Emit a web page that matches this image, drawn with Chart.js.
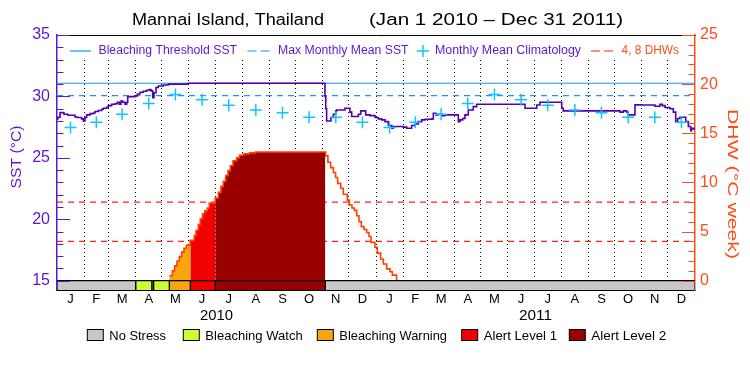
<!DOCTYPE html>
<html>
<head>
<meta charset="utf-8">
<script src="https://cdn.jsdelivr.net/npm/chart.js@4.4.1/dist/chart.umd.min.js"></script>
<style>body{margin:0;background:#fff}</style>
</head>
<body>
<canvas id="c" width="750" height="375"></canvas>
<script>
let monthLetters = ['J', 'F', 'M', 'A', 'M', 'J', 'J', 'A', 'S', 'O', 'N', 'D']
let monthLengths = [31, 28, 31, 30, 31, 30, 31, 31, 30, 31, 30, 31]
let years = ['2010', '2011']
let sstTicks = [15, 20, 25, 30, 35]
let dhwTicks = [0, 5, 10, 15, 20, 25]

let mmm = 30.07
let threshold = 31.07
let dhwLevels = [4, 8]

// monthly mean climatology, Jan..Dec
let climVals = [27.46, 27.9, 28.55, 29.42, 30.15, 29.72, 29.28, 28.9, 28.68, 28.3, 28.3, 27.9]

// SST (days since Jan 1 2010)
let sstDays = [0, 1, 3.5, 8, 12.6, 20.6, 23, 28.2, 30.1, 32,
    33.9, 37.8, 41.5, 43.5, 47.3, 51.1, 53, 56.8, 58.7, 62.6,
    66.4, 69, 71.3, 73.2, 75.2, 77.8, 79.7, 80.9, 89.2, 91.9,
    95, 98.8, 102.6, 105.6, 107.5, 109.5, 111, 113.3, 115.9, 121.6,
    127.4, 150.2, 305.5, 306.6, 307.5, 308.5, 310.5, 313.5, 316.2, 318.9,
    320, 329.5, 335.2, 337.2, 344.8, 347.5, 353.2, 358.1, 363.9, 367.6,
    371.5, 375.3, 379.1, 383, 384.8, 396.2, 400.1, 405.8, 409.6, 413.4,
    417.3, 421.1, 428.7, 430.6, 433.6, 436.3, 440.2, 443.9, 459.2, 461.1,
    464.2, 466.8, 470.6, 476.3, 480.2, 533.5, 535.5, 546.9, 548.9, 552.6,
    575.5, 577.5, 579.3, 642.2, 644.2, 648, 651.8, 653.7, 659.4, 661.3,
    669, 680.4, 684.2, 689.9, 692.6, 695.7, 701.4, 705.2, 707.9, 710.2,
    712.8, 716.6, 719.4, 722.4, 725.1, 726.2, 728.8, 730]
let sstVals = [28.17, 28.3, 28.68, 28.55, 28.47, 28.33, 28.28, 28.17, 28.0, 28.28,
    28.5, 28.6, 28.65, 28.77, 28.85, 28.96, 29.04, 29.12, 29.25, 29.36,
    29.4, 29.53, 29.36, 29.63, 29.53, 29.36, 29.5, 29.98, 30.04, 30.2,
    30.34, 30.42, 30.5, 30.55, 30.45, 29.9, 30.3, 30.72, 30.85, 30.93,
    31.0, 31.07, 31.07, 30.0, 29.0, 28.0, 28.0, 28.28, 28.55, 28.82,
    28.9, 29.04, 28.72, 28.36, 28.55, 28.82, 28.5, 28.44, 28.28, 28.17,
    28.09, 27.95, 27.63, 27.41, 27.55, 27.5, 27.41, 27.63, 27.76, 27.95,
    28.09, 28.14, 28.17, 28.63, 28.5, 28.55, 28.44, 28.5, 27.95, 28.09,
    28.2, 28.5, 28.9, 29.17, 29.36, 29.36, 29.04, 29.04, 29.3, 29.53,
    29.53, 29.04, 28.82, 28.82, 28.72, 28.82, 28.72, 28.5, 28.5, 29.31,
    29.3, 29.3, 29.2, 29.36, 29.25, 29.1, 29.0, 28.72, 27.95, 28.2,
    28.3, 28.3, 27.95, 27.55, 27.2, 27.4, 27.35, 27.35]

// degree heating weeks
let dhwDays = [128.5, 132, 134.6, 137.3, 140, 142.6, 145.3, 148, 152.5, 157.1,
    159, 161.7, 164, 166.6, 169, 172, 174.3, 181, 184.6, 187.6,
    190.3, 193, 195.7, 198.3, 201.4, 205.6, 208.6, 213.2, 220.1, 226.9,
    307.4, 310, 313.1, 316.2, 318.8, 321.1, 324.6, 327.6, 332.2, 334.5,
    337.5, 340.2, 342.9, 345.5, 348.2, 351.2, 354.3, 357, 359.3, 363.8,
    366.5, 370.3, 373.4, 377.2, 381, 383.7, 388.6]
let dhwVals = [0.5, 1.0, 1.5, 2.0, 2.45, 2.9, 3.3, 3.6, 4.1, 4.6,
    5.1, 5.7, 6.3, 6.8, 7.1, 7.4, 7.9, 8.4, 9.0, 9.6,
    10.1, 10.7, 11.2, 11.7, 12.2, 12.5, 12.76, 12.9, 13.0, 13.1,
    12.7, 12.05, 11.5, 11.0, 10.5, 9.9, 9.4, 8.8, 8.2, 7.7,
    7.4, 7.15, 6.6, 6.0, 5.5, 5.2, 4.9, 4.5, 3.9, 3.4,
    2.8, 2.2, 1.7, 1.2, 0.9, 0.56, 0]

// stress level periods
let stressStart = [0, 90, 108.5, 110.5, 128.5, 152.5, 181, 307]
let stressEnd = [90, 108.5, 110.5, 128.5, 152.5, 181, 307, 730]
let stressLevel = [0, 1, 0, 1, 2, 3, 4, 0]
let stressNames = ['No Stress', 'Bleaching Watch', 'Bleaching Warning', 'Alert Level 1', 'Alert Level 2']
let stressColors = ['#c8c8c8', '#ccff33', '#f9a60c', '#f00000', '#990000']

let legendLabels = ['Bleaching Threshold SST', 'Max Monthly Mean SST', 'Monthly Mean Climatology', '4, 8 DHWs']

let purple = '#5a16d2'
let sstColor = '#5000b4'
let orange = '#ff4d1a'
let red = '#ff2020'
let blue = '#1e90ff'
let cyan = '#10c4ff'
let fam = 'Liberation Sans'
let sstMin = 14.24

let bounds = [], mids = []
let d = 0
years.forEach(() => monthLengths.forEach(l => { mids.push(d + l / 2); d += l; bounds.push(d) }))
let total = bounds.pop()

function fillData(s, e) {
    let pts = []
    dhwDays.forEach((v, i) => { if (v >= s && v < e) pts.push({ x: v, y: dhwVals[i] }) })
    pts.push({ x: e, y: pts[pts.length - 1].y })
    return pts
}

let datasets = []
dhwLevels.forEach(v => datasets.push({
    data: [{ x: 0, y: v }, { x: total, y: v }], yAxisID: 'y2',
    borderColor: red, borderWidth: 1.2, borderDash: [6, 5], pointRadius: 0, order: 12
}))
stressStart.forEach((s, i) => {
    if (stressLevel[i] < 2) return
    datasets.push({
        data: fillData(s, stressEnd[i]), yAxisID: 'y2', stepped: true, fill: 'origin',
        backgroundColor: stressColors[stressLevel[i]], borderColor: 'rgba(0,0,0,0)', borderWidth: 0,
        pointRadius: 0, order: 10
    })
})
datasets.push({
    data: [{ x: 0, y: threshold }, { x: total, y: threshold }], yAxisID: 'y',
    borderColor: blue, borderWidth: 1.2, pointRadius: 0, order: 6
})
datasets.push({
    data: [{ x: 0, y: mmm }, { x: total, y: mmm }], yAxisID: 'y',
    borderColor: blue, borderWidth: 1.2, borderDash: [6, 5], pointRadius: 0, order: 6
})
datasets.push({
    data: dhwDays.map((v, i) => ({ x: v, y: dhwVals[i] })), yAxisID: 'y2', stepped: true,
    borderColor: '#ff4000', borderWidth: 1.6, pointRadius: 0, fill: false, order: 4
})
datasets.push({
    data: sstDays.map((v, i) => ({ x: v, y: sstVals[i] })), yAxisID: 'y', stepped: true,
    borderColor: sstColor, borderWidth: 1.6, pointRadius: 0, fill: false, order: 2
})
datasets.push({
    data: mids.map((v, i) => ({ x: v, y: climVals[i % 12] })), yAxisID: 'y', showLine: false,
    pointStyle: 'cross', pointRadius: 6, borderColor: cyan, pointBorderColor: cyan, pointBorderWidth: 1.5, order: 1
})
stressStart.forEach((s, i) => {
    let e = stressEnd[i]
    datasets.push({
        data: [{ x: s, y: sstMin }, { x: s, y: 15 }, { x: e, y: 15 }, { x: e, y: sstMin }], yAxisID: 'y',
        fill: 'start', backgroundColor: stressColors[stressLevel[i]], borderColor: '#000', borderWidth: 1.2,
        pointRadius: 0, order: 0
    })
})

function fitText(ctx, str, x, y, w, size, color, align) {
    ctx.font = size + 'px "' + fam + '"'
    ctx.fillStyle = color
    ctx.textBaseline = 'middle'
    ctx.textAlign = 'left'
    let m = ctx.measureText(str).width
    ctx.save()
    ctx.translate(align == 'center' ? x - w / 2 : x, y)
    ctx.scale(w / m, 1)
    ctx.fillText(str, 0, 0)
    ctx.restore()
}

function seg(ctx, x1, x2, y, color, dash) {
    ctx.save()
    ctx.strokeStyle = color
    ctx.lineWidth = 1.2
    ctx.setLineDash(dash)
    ctx.beginPath(); ctx.moveTo(x1, y); ctx.lineTo(x2, y); ctx.stroke()
    ctx.restore()
}

const decor = {
    id: 'decor',
    afterDraw(chart) {
        let ctx = chart.ctx
        let { x, y, y2 } = chart.scales
        let a = chart.chartArea
        ctx.save()
        // blank band behind the top legend
        ctx.fillStyle = '#fff'
        ctx.fillRect(a.left + 1, a.top + 1, a.right - a.left - 2, 24)

        // inward ticks
        ctx.lineWidth = 1
        ctx.strokeStyle = purple
        for (let v = 15; v <= 35; v++) {
            let py = Math.round(y.getPixelForValue(v)) + 0.5
            ctx.beginPath(); ctx.moveTo(a.left, py); ctx.lineTo(a.left + (v % 5 ? 6.5 : 13), py); ctx.stroke()
        }
        ctx.strokeStyle = orange
        for (let v = 0; v <= 25; v++) {
            let py = Math.round(y2.getPixelForValue(v)) + 0.5
            ctx.beginPath(); ctx.moveTo(a.right, py); ctx.lineTo(a.right - (v % 5 ? 6.5 : 13), py); ctx.stroke()
        }

        // title
        fitText(ctx, 'Mannai Island, Thailand', 132, 21, 192, 16, '#000')
        fitText(ctx, '(Jan 1 2010 \u2013 Dec 31 2011)', 369, 21, 254, 16, '#000')

        // top legend
        let ly = 51
        seg(ctx, 70, 91, ly, blue, [])
        fitText(ctx, legendLabels[0], 98.5, ly, 138.5, 12, purple)
        seg(ctx, 247.6, 271.6, ly, blue, [9, 4])
        fitText(ctx, legendLabels[1], 278, ly, 130.6, 12, purple)
        ctx.strokeStyle = cyan
        ctx.lineWidth = 1.5
        ctx.beginPath()
        ctx.moveTo(417, ly); ctx.lineTo(429, ly)
        ctx.moveTo(423, ly - 6); ctx.lineTo(423, ly + 6)
        ctx.stroke()
        fitText(ctx, legendLabels[2], 435, ly, 146, 12, purple)
        seg(ctx, 591, 615, ly, red, [9, 4])
        fitText(ctx, legendLabels[3], 621.6, ly, 57.4, 12, orange)

        // year labels
        years.forEach((t, i) => fitText(ctx, t, x.getPixelForValue(182.5 + 365 * i), 316, 33, 14, '#000', 'center'))

        // axis titles
        ctx.save()
        ctx.translate(17, 157)
        ctx.rotate(-Math.PI / 2)
        fitText(ctx, 'SST (\u00B0C)', 0, 0, 63, 15, purple, 'center')
        ctx.restore()
        ctx.save()
        ctx.translate(732, 184)
        ctx.rotate(Math.PI / 2)
        fitText(ctx, 'DHW (\u00B0C week)', 0, 0, 150, 14, orange, 'center')
        ctx.restore()

        // stress legend
        let boxX = [87.3, 183.3, 317.3, 461.7, 569.3]
        let textW = [56.7, 97.4, 107.7, 73.3, 75]
        stressNames.forEach((n, i) => {
            ctx.fillStyle = stressColors[i]
            ctx.fillRect(boxX[i], 329.5, 16, 11)
            ctx.strokeStyle = '#000'
            ctx.lineWidth = 1
            ctx.strokeRect(boxX[i], 329.5, 16, 11)
            fitText(ctx, n, boxX[i] + 22, 336, textW[i], 13, '#000')
        })
        ctx.restore()
    }
}

Chart.defaults.font.family = fam

new Chart(document.getElementById('c'), {
    type: 'line',
    data: { datasets: datasets },
    options: {
        responsive: false,
        animation: false,
        events: [],
        layout: { padding: { top: 35 } },
        plugins: { legend: { display: false }, tooltip: { enabled: false } },
        scales: {
            x: {
                type: 'linear', min: 0, max: total, position: 'bottom',
                afterBuildTicks: s => { s.ticks = mids.map(v => ({ value: v })) },
                afterFit: s => { s.height = 85 },
                ticks: { autoSkip: false, maxRotation: 0, padding: 2, color: '#000', font: { size: 13 }, callback: (v, i) => monthLetters[i % 12] },
                grid: { drawOnChartArea: false, drawTicks: false },
                border: { color: '#000', width: 1 }
            },
            x2: {
                type: 'linear', min: 0, max: total, position: 'top',
                afterBuildTicks: s => { s.ticks = bounds.map(v => ({ value: v })) },
                afterFit: s => { s.height = 0 },
                ticks: { display: false },
                grid: { color: '#000', lineWidth: 1, drawTicks: false },
                border: { color: '#000', width: 1, dash: [1, 3] }
            },
            y: {
                position: 'left', min: sstMin, max: 35,
                afterBuildTicks: s => { s.ticks = sstTicks.map(v => ({ value: v })) },
                afterFit: s => { s.width = 57 },
                ticks: { color: purple, font: { size: 16 }, padding: 7 },
                grid: { drawOnChartArea: false, drawTicks: false },
                border: { color: purple, width: 1.5 }
            },
            y2: {
                position: 'right', min: -0.95, max: 25,
                afterBuildTicks: s => { s.ticks = dhwTicks.map(v => ({ value: v })) },
                afterFit: s => { s.width = 55 },
                ticks: { color: orange, font: { size: 16 }, padding: 5 },
                grid: { drawOnChartArea: false, drawTicks: false },
                border: { color: orange, width: 1.5 }
            }
        }
    },
    plugins: [decor]
})
</script>
</body>
</html>
